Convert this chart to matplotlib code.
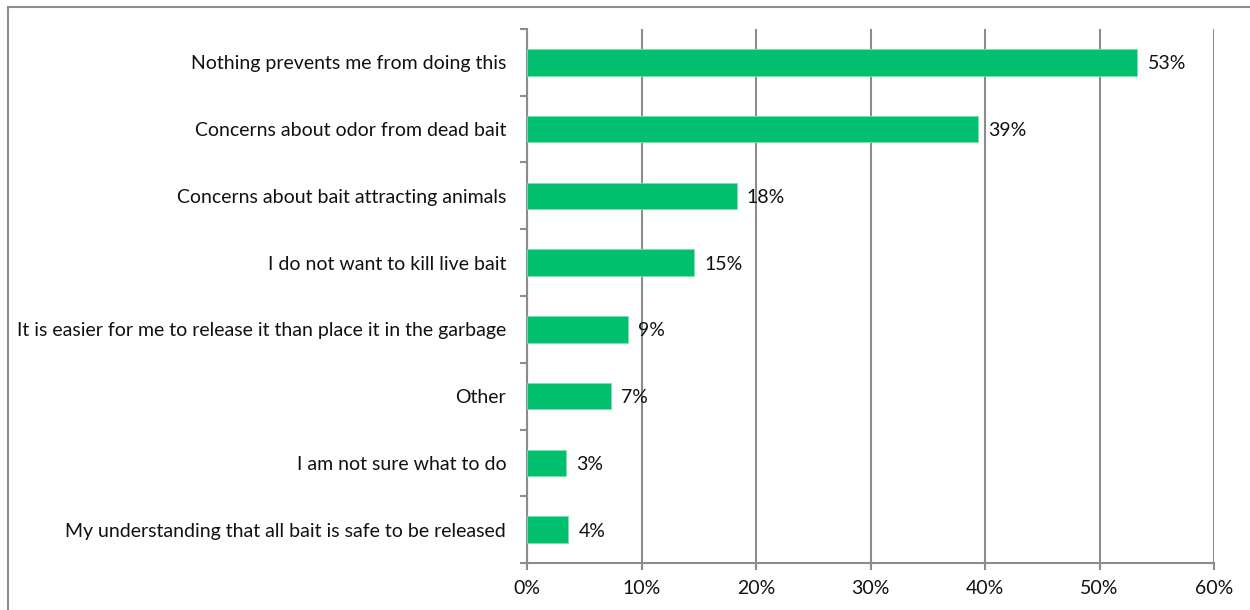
import matplotlib.pyplot as plt
from matplotlib.lines import Line2D
from matplotlib.ticker import FuncFormatter, FixedLocator

plt.rcParams['font.family'] = ['Lato', 'DejaVu Sans']

# survey answers, top to bottom
reasons = [
    "Nothing prevents me from doing this",
    "Concerns about odor from dead bait",
    "Concerns about bait attracting animals",
    "I do not want to kill live bait",
    "It is easier for me to release it than place it in the garbage",
    "Other",
    "I am not sure what to do",
    "My understanding that all bait is safe to be released",
]
shares = [53.3, 39.4, 18.3, 14.6, 8.8, 7.3, 3.4, 3.6]
x_ticks = [0, 10, 20, 30, 40, 50, 60]

GREEN = "#00BF6F"
GRAY = "#8C8C8C"
FS = 14

fig = plt.figure(figsize=(12.5, 6.1), dpi=100)
ax = fig.add_axes([0.4216, 0.077, 0.5496, 0.8755])

pos = list(range(len(reasons)))
ax.barh(pos, shares, height=0.4, color=GREEN, edgecolor="#7BE0B0", linewidth=0.6, zorder=3)
ax.set_ylim(len(reasons) - 0.5, -0.5)
ax.set_xlim(0, 60)

for y, v in zip(pos, shares):
    ax.annotate(f"{round(v)}%", (v, y), xytext=(7.5, -1), textcoords="offset points",
                va="center", ha="left", fontsize=FS, color="#111111", zorder=4)

# vertical gridlines
ax.set_xticks(x_ticks)
ax.xaxis.set_major_formatter(FuncFormatter(lambda v, _: f"{v:.0f}%"))
ax.grid(axis="x", color=GRAY, linewidth=1.5, zorder=0)
ax.tick_params(axis="x", length=5, width=1.5, color=GRAY, pad=7, labelsize=FS, labelcolor="#111111")

# category labels at centres, tick marks on boundaries
ax.set_yticks(pos)
ax.set_yticklabels(reasons)
ax.yaxis.set_minor_locator(FixedLocator([p - 0.5 for p in pos] + [len(pos) - 0.5]))
ax.tick_params(axis="y", which="major", length=0, pad=15, labelsize=FS, labelcolor="#111111")
ax.tick_params(axis="y", which="minor", length=5, width=1.5, color=GRAY)

for side in ("top", "right"):
    ax.spines[side].set_visible(False)
for side in ("left", "bottom"):
    ax.spines[side].set_color(GRAY)
    ax.spines[side].set_linewidth(1.5)

# chart area border (top and left edges)
fig.add_artist(Line2D([0.006, 1.0], [0.9893, 0.9893], color=GRAY, linewidth=1.5))
fig.add_artist(Line2D([0.006, 0.006], [0.0, 0.9893], color=GRAY, linewidth=1.5))

fig.savefig("out.png", dpi=100)
